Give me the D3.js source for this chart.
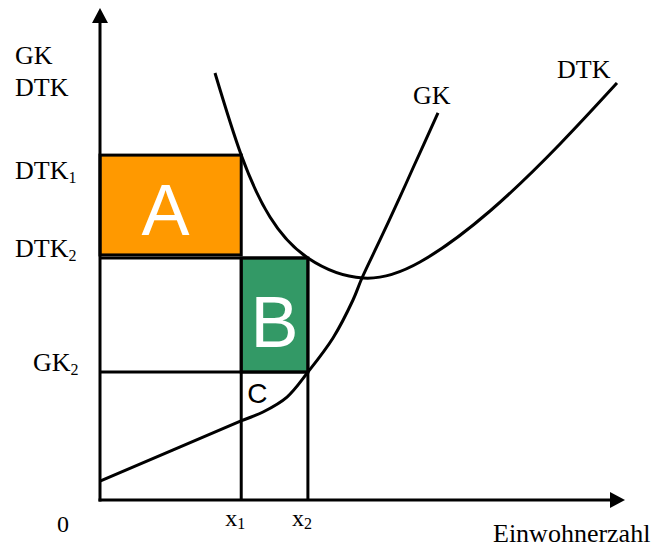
<!DOCTYPE html>
<html><head><meta charset="utf-8">
<script src="https://cdn.jsdelivr.net/npm/d3@7"></script>
<style>body{margin:0;background:#fff}svg{display:block}</style>
</head><body><svg id="c" width="654" height="547"></svg>
<script>
// ---- data (abstract units: Einwohnerzahl 0..100, Kosten 0..100) ----
const xTickNames = ["x", "x"];
const xTickSubs = ["1", "2"];
const xTickValues = [26.9, 39.6];

const yTickNames = ["DTK", "DTK", "GK"];
const yTickSubs = ["1", "2", "2"];
const yTickValues = [70.1, 49.2, 26.0];

const gkX = [0, 26.86, 31.05, 35.62, 39.62, 44.38, 48.19, 49.9, 53.33, 57.14, 59.62, 64.38];
const gkY = [3.86, 16.06, 17.89, 20.93, 26.02, 32.93, 40.65, 45.12, 52.85, 61.59, 67.48, 78.66];

const dtkX = [21.9, 26.9, 32.38, 39.6, 50.1, 60.95, 74.29, 87.62, 98.48];
const dtkY = [86.79, 70.1, 57.52, 49.2, 45.12, 48.37, 58.74, 72.36, 84.76];

const areaNames = ["A", "B", "C"];
const areaColors = ["#FF9900", "#339966"];

// ---- scales ----
const svg = d3.select("#c");
const xs = d3.scaleLinear().domain([0, 100]).range([100, 625]);
const ys = d3.scaleLinear().domain([0, 100]).range([500, 8]);

const serif = "'Liberation Serif','Times New Roman',serif";
const sans = "'Liberation Sans',Arial,sans-serif";

const x1 = xTickValues[0], x2 = xTickValues[1];
const dtk1 = yTickValues[0], dtk2 = yTickValues[1], gk2 = yTickValues[2];

// ---- areas ----
svg.append("rect")
  .attr("x", xs(0)).attr("y", ys(dtk1))
  .attr("width", xs(x1) - xs(0))
  .attr("height", ys(dtk2) - ys(dtk1) - 3)
  .attr("fill", areaColors[0]).attr("stroke", "#000").attr("stroke-width", 3);
svg.append("rect")
  .attr("x", xs(x1)).attr("y", ys(dtk2))
  .attr("width", xs(x2) - xs(x1))
  .attr("height", ys(gk2) - ys(dtk2))
  .attr("fill", areaColors[1]).attr("stroke", "#222").attr("stroke-width", 3);

// ---- guide lines ----
const guides = [
  [[0, dtk2], [x2, dtk2]],
  [[0, gk2], [x2, gk2]],
  [[x1, dtk2], [x1, 0]],
  [[x2, dtk2], [x2, 0]]
];
guides.forEach(g => {
  svg.append("line")
    .attr("x1", xs(g[0][0])).attr("y1", ys(g[0][1]))
    .attr("x2", xs(g[1][0])).attr("y2", ys(g[1][1]))
    .attr("stroke", "#000").attr("stroke-width", 3);
});

// ---- curves ----
const gkLine = d3.line().x(d => xs(d[0])).y(d => ys(d[1])).curve(d3.curveCatmullRom.alpha(0.5));
const dtkLine = d3.line().x(d => xs(d[0])).y(d => ys(d[1])).curve(d3.curveNatural);
svg.append("path").datum(gkX.map((v, i) => [v, gkY[i]]))
  .attr("d", gkLine).attr("fill", "none").attr("stroke", "#000").attr("stroke-width", 3);
svg.append("path").datum(dtkX.map((v, i) => [v, dtkY[i]]))
  .attr("d", dtkLine).attr("fill", "none").attr("stroke", "#000").attr("stroke-width", 3);

// ---- axes ----
svg.append("line").attr("x1", xs(0)).attr("y1", ys(0) + 1.5).attr("x2", xs(0)).attr("y2", ys(100) + 12)
  .attr("stroke", "#000").attr("stroke-width", 3);
svg.append("path")
  .attr("d", `M${xs(0) - 8},${ys(100) + 15}L${xs(0)},${ys(100)}L${xs(0) + 8},${ys(100) + 15}Z`)
  .attr("fill", "#000");
svg.append("line").attr("x1", xs(0) - 1.5).attr("y1", ys(0)).attr("x2", xs(100) - 12).attr("y2", ys(0))
  .attr("stroke", "#000").attr("stroke-width", 3);
svg.append("path")
  .attr("d", `M${xs(100) - 15},${ys(0) - 8}L${xs(100)},${ys(0)}L${xs(100) - 15},${ys(0) + 8}Z`)
  .attr("fill", "#000");

// ---- text ----
function subText(x, y, main, sub, size, subSize, dy) {
  const t = svg.append("text").attr("x", x).attr("y", y)
    .attr("font-family", serif).attr("font-size", size).attr("fill", "#000");
  t.append("tspan").text(main);
  t.append("tspan").attr("font-size", subSize).attr("dy", dy).text(sub);
  return t;
}
// y tick labels (first sits below its line, the others sit on theirs)
yTickValues.forEach((v, i) => {
  const xPos = yTickNames[i] === "GK" ? 33 : 15;
  const yPos = i === 0 ? ys(v) + 24 : ys(v) - 1;
  subText(xPos, yPos, yTickNames[i], yTickSubs[i], 26, 16, 4);
});
// y axis title
svg.append("text").attr("x", 15).attr("y", 64).attr("font-family", serif).attr("font-size", 26).text("GK");
svg.append("text").attr("x", 15).attr("y", 96).attr("font-family", serif).attr("font-size", 26).text("DTK");
// origin
svg.append("text").attr("x", 57).attr("y", 532).attr("font-family", serif).attr("font-size", 24).text("0");
// x tick labels
xTickValues.forEach((v, i) => {
  subText(xs(v) - 16, 526, xTickNames[i], xTickSubs[i], 24, 16, 3);
});
// x axis title
svg.append("text").attr("x", 493).attr("y", 542).attr("font-family", serif).attr("font-size", 26).text("Einwohnerzahl");
// curve labels
svg.append("text").attr("x", 413).attr("y", 104).attr("font-family", serif).attr("font-size", 26).text("GK");
svg.append("text").attr("x", 557).attr("y", 78).attr("font-family", serif).attr("font-size", 26).text("DTK");

// area labels
svg.append("text").attr("x", (xs(0) + xs(x1)) / 2 - 5).attr("y", 235)
  .attr("text-anchor", "middle").attr("font-family", sans).attr("font-size", 72).attr("fill", "#fff").text(areaNames[0]);
svg.append("text").attr("x", (xs(x1) + xs(x2)) / 2).attr("y", 347)
  .attr("text-anchor", "middle").attr("font-family", sans).attr("font-size", 72).attr("fill", "#fff").text(areaNames[1]);
svg.append("text").attr("x", xs(x1) + 6).attr("y", 403)
  .attr("font-family", sans).attr("font-size", 28).attr("fill", "#000").text(areaNames[2]);
</script></body></html>
